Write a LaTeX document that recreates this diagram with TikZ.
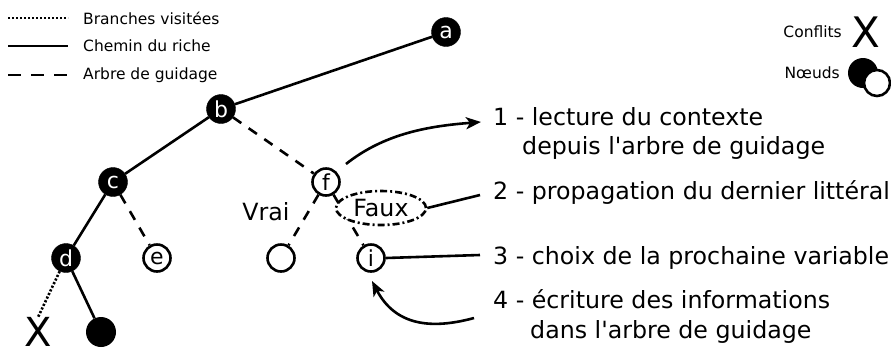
\documentclass[tikz,border=0pt]{standalone}
\usepackage{fontspec}
\setmainfont{DejaVu Sans}[Ligatures=TeXOff]
\usetikzlibrary{arrows.meta,shapes.geometric}
\begin{document}
\begin{tikzpicture}[x=1pt,y=-1pt,
  blk/.style={circle, fill=black, draw=black, minimum size=29pt, inner sep=0pt, text=white, font=\fontsize{22}{22}\selectfont},
  wht/.style={circle, fill=white, draw=black, line width=2.6pt, minimum size=27pt, inner sep=0pt, font=\fontsize{22}{22}\selectfont},
  edge/.style={line width=2.6pt},
  dsh/.style={edge, dash pattern=on 10pt off 9pt},
  dts/.style={line width=2.6pt, dash pattern=on 2.2pt off 1.8pt},
  big/.style={font=\fontsize{23.7}{23.7}\selectfont, inner sep=0pt},
  leg/.style={font=\fontsize{15.5}{15.5}\selectfont, inner sep=0pt, anchor=west},
  arr/.style={line width=2.6pt, -{Stealth[length=15pt,width=12pt,inset=4pt]}}
]
\useasboundingbox (0,0) rectangle (891,349);
% legend
\coordinate (l1a) at (8,18); \coordinate (l1b) at (68,18);
\coordinate (l2a) at (8,46); \coordinate (l2b) at (68,46);
\coordinate (l3a) at (8,75); \coordinate (l3b) at (68,75);
\draw[dts] (l1a) -- (l1b);
\draw[edge] (l2a) -- (l2b);
\draw[dsh, dash pattern=on 13pt off 10pt] (l3a) -- (l3b);
\node[leg] (t1) at (83,18) {Branches visitées};
\node[leg] (t2) at (83,46) {Chemin du riche};
\node[leg] (t3) at (83,75) {Arbre de guidage};
\node[leg, anchor=east] (conf) at (842,32) {Conflits};
\node[font=\fontsize{42}{42}\selectfont, inner sep=0pt] (cx) at (866,32) {X};
\node[leg, anchor=east] (noe) at (840,73) {Nœuds};
\node[circle, fill=black, minimum size=30pt, inner sep=0pt] (nb) at (863,73) {};
\node[circle, fill=white, draw=black, line width=2.6pt, minimum size=26pt, inner sep=0pt] (nw) at (877,83) {};
% tree nodes
\node[blk] (a) at (446,32) {a};
\node[blk] (b) at (221,109) {b};
\node[blk] (c) at (113,182) {c};
\node[blk] (d) at (66,258) {d};
\node[wht] (e) at (157,258) {e};
\node[wht] (f) at (326,182) {f};
\node[wht] (v) at (281,258) {};
\node[wht] (i) at (371,258) {i};
\node[circle, fill=black, minimum size=30pt, inner sep=0pt] (g) at (101,332) {};
\node[font=\fontsize{40}{40}\selectfont, inner sep=0pt] (x) at (38,332) {X};
% edges
\draw[edge] (a) -- (b);
\draw[edge] (b) -- (c);
\draw[edge] (c) -- (d);
\draw[edge] (d) -- (g);
\draw[dts] (d) -- (x.north);
\draw[dsh] (b) -- (f);
\draw[dsh] (c) -- (e);
\draw[dsh] (f) -- (v);
\draw[dsh] (f) -- (i);
% labels
\node[big, fill=white, inner sep=2pt] (vrai) at (266,212) {Vrai};
\node[ellipse, draw=black, fill=white, line width=2.6pt, dash pattern=on 7pt off 3pt on 2pt off 3pt, minimum width=90pt, minimum height=34pt, inner sep=0pt, font=\fontsize{23.7}{23.7}\selectfont] (faux) at (381,208) {Faux};
% right texts
\node[big, anchor=base west] (r1) at (493,125) {1 - lecture du contexte};
\node[big, anchor=base west] (r1b) at (522,154) {depuis l'arbre de guidage};
\node[big, anchor=base west] (r2) at (493,199) {2 - propagation du dernier littéral};
\node[big, anchor=base west] (r3) at (493,264) {3 - choix de la prochaine variable};
\node[big, anchor=base west] (r4) at (493,308) {4 - écriture des informations};
\node[big, anchor=base west] (r4b) at (530,338) {dans l'arbre de guidage};
\coordinate (e2) at (480,195);
\coordinate (e3) at (480,255);
\coordinate (s1) at (346,164);
\coordinate (t1e) at (481,122);
\coordinate (s4) at (474,318);
\coordinate (t4) at (372,281);
\draw[edge] (faux.east) -- (e2);
\draw[edge] (i.east) -- (e3);
\draw[arr] (s1) .. controls (385,133) and (430,126) .. (t1e);
\draw[arr] (s4) .. controls (430,330) and (395,325) .. (t4);
\end{tikzpicture}
\end{document}
